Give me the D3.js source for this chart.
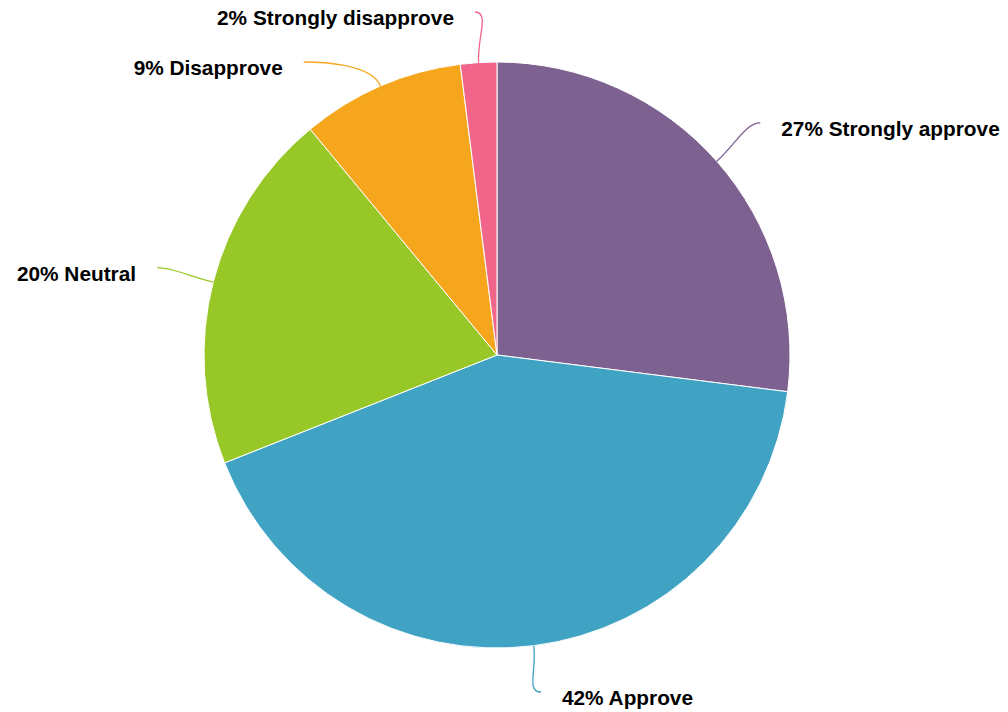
<!DOCTYPE html>
<html>
<head>
<meta charset="utf-8">
<script src="https://cdn.jsdelivr.net/npm/d3@7"></script>
<style>
  html, body { margin: 0; padding: 0; background: #fff; }
  #chart { width: 1008px; height: 712px; }
  .lbl { font-family: "Liberation Sans", Arial, Helvetica, sans-serif; font-weight: bold; font-size: 20.8px; fill: #000; }
</style>
</head>
<body>
<div id="chart"></div>
<script>
'use strict';

const categories = ['Strongly approve', 'Approve', 'Neutral', 'Disapprove', 'Strongly disapprove'];
const shares = [27, 42, 20, 9, 2];
const colors = ['#7d6190', '#41a3c3', '#98c827', '#f5a61d', '#f06589'];

const W = 1008, H = 712;
const cx = 497, cy = 355, R = 293;
const labelDist = 58;   // distance of connector end beyond the pie edge
const textGap = 21;
const minGap = 50;      // min vertical spacing between labels on one side

const rows = categories.map((c, i) => ({ name: c, value: shares[i], color: colors[i] }));

const svg = d3.select('#chart').append('svg')
  .attr('width', W)
  .attr('height', H);

const pie = d3.pie().sort(null).value(d => d.value);
const arcs = pie(rows);
const arc = d3.arc().innerRadius(0).outerRadius(R);

const g = svg.append('g').attr('transform', `translate(${cx},${cy})`);

g.selectAll('path.slice')
  .data(arcs)
  .join('path')
  .attr('class', 'slice')
  .attr('d', arc)
  .attr('fill', d => d.data.color)
  .attr('stroke', '#fff')
  .attr('stroke-width', 1)
  .attr('stroke-linejoin', 'round');

// label layout: natural spot on a bigger circle, then spread apart per side
const RL = R + labelDist;
const labels = arcs.map(d => {
  const a = (d.startAngle + d.endAngle) / 2;
  const ux = Math.sin(a), uy = -Math.cos(a);
  return {
    d, a, ux, uy,
    left: ux < 0,
    ex: R * ux, ey: R * uy,          // point on pie edge
    x: RL * ux, y: RL * uy,          // connector end
    moved: false,
  };
});

const topY = 12 - cy, botY = H - 20 - cy;
['left', 'right'].forEach(side => {
  const list = labels.filter(l => (side === 'left') === l.left).sort((p, q) => p.y - q.y);
  list.forEach((l, i) => {
    let y = Math.max(topY, Math.min(botY, l.y));
    if (i > 0 && y < list[i - 1].y + minGap) { y = list[i - 1].y + minGap; l.moved = true; }
    l.y = y;
  });
  list.forEach(l => {
    if (l.moved) {
      const dx = Math.sqrt(Math.max(0, RL * RL - l.y * l.y));
      l.x = l.left ? -dx : dx;
    }
  });
});

const link = l => {
  const s = l.left ? 1 : -1;   // handle points back toward pie
  const c1x = l.ex + l.ux * 25, c1y = l.ey + l.uy * 25;
  const c2x = l.x + s * 15, c2y = l.y;
  return `M${l.ex},${l.ey}C${c1x},${c1y} ${c2x},${c2y} ${l.x},${l.y}`;
};

g.selectAll('path.conn')
  .data(labels)
  .join('path')
  .attr('class', 'conn')
  .attr('d', link)
  .attr('fill', 'none')
  .attr('stroke', l => l.d.data.color)
  .attr('stroke-width', 1.3);

g.selectAll('text.lbl')
  .data(labels)
  .join('text')
  .attr('class', 'lbl')
  .attr('x', l => l.x + (l.left ? -textGap : textGap))
  .attr('y', l => l.y + 6)
  .attr('dy', '0.35em')
  .attr('text-anchor', l => l.left ? 'end' : 'start')
  .text(l => `${l.d.data.value}% ${l.d.data.name}`);
</script>
</body>
</html>
